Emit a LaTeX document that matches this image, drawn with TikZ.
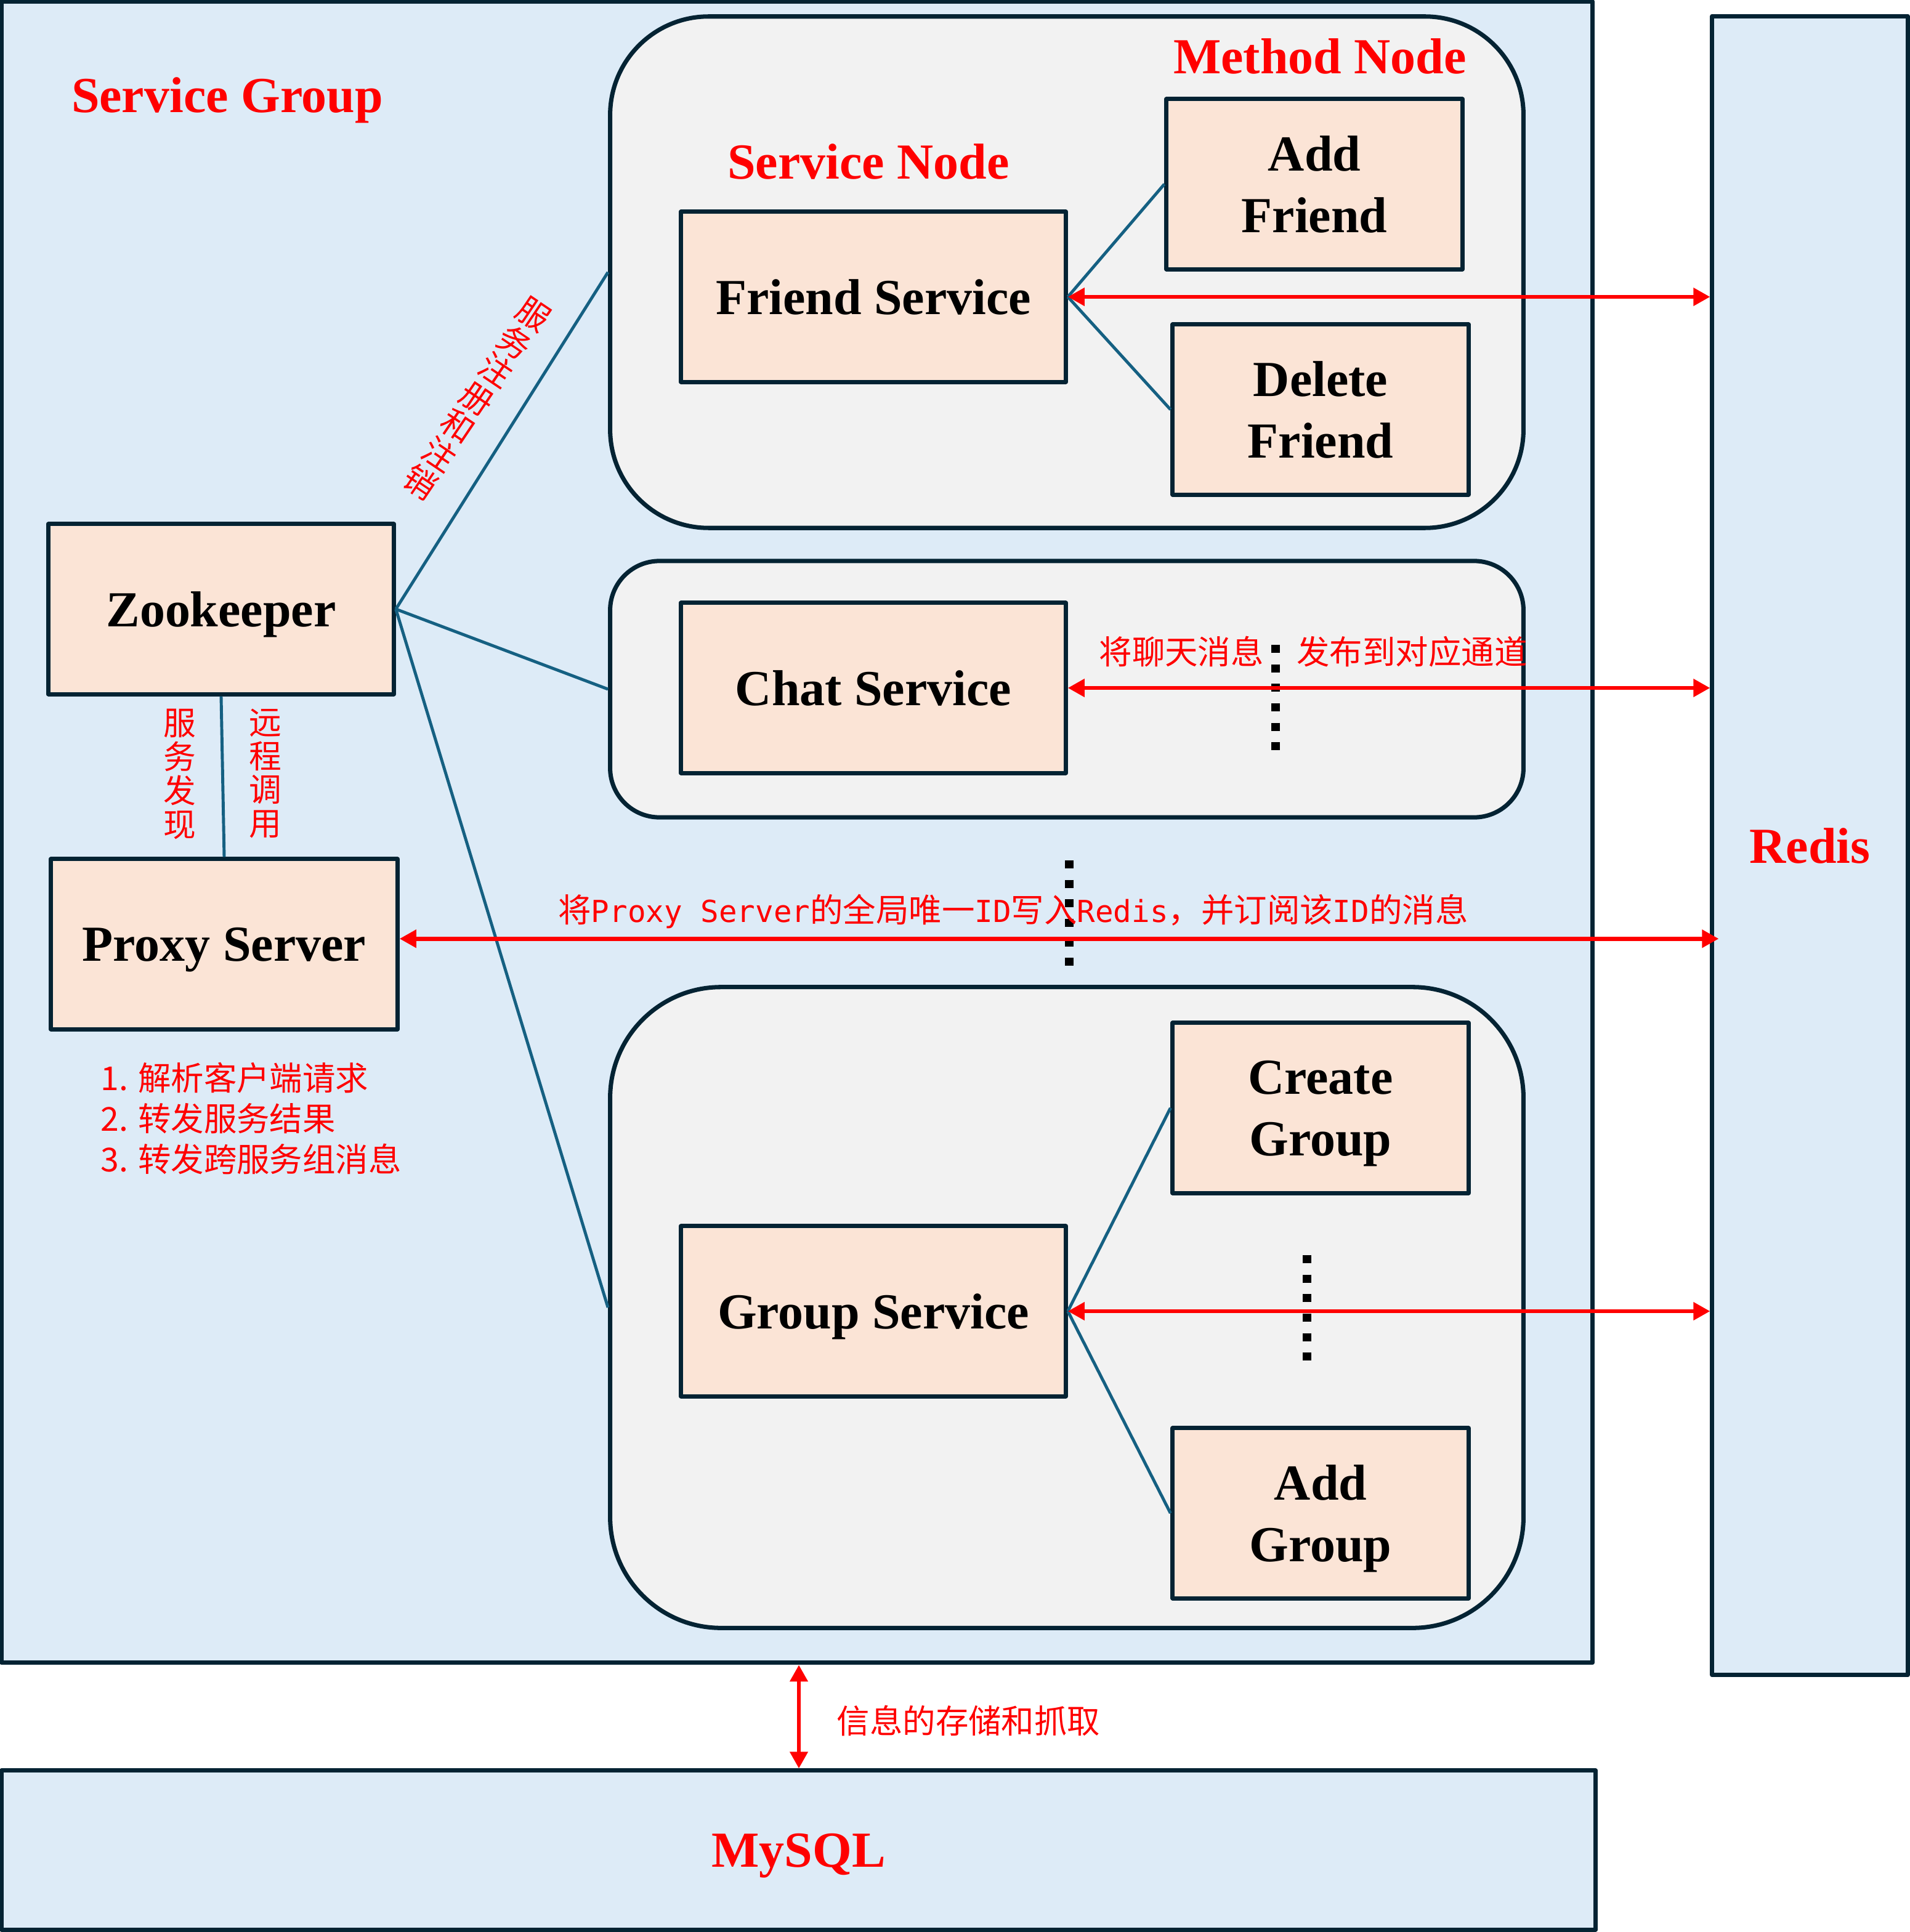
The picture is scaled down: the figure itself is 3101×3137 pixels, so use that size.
\documentclass[tikz,border=0pt]{standalone}
\usepackage{fontspec}
\setmainfont{Liberation Serif}
\newfontfamily\cjk{Noto Sans CJK SC}
\newfontfamily\lmono{DejaVu Sans Mono}[Scale=0.92]
\usetikzlibrary{arrows.meta}
\definecolor{grpblue}{RGB}{221,235,247}
\definecolor{boxgray}{RGB}{242,242,242}
\definecolor{nodeorange}{RGB}{251,228,214}
\definecolor{edgenavy}{RGB}{4,35,51}
\definecolor{linkteal}{RGB}{21,96,130}
\tikzset{
  bigbox/.style={draw=edgenavy,line width=2pt,fill=grpblue,inner sep=0pt,text depth=0pt,text=red,font=\fontsize{23.3}{28.4}\selectfont\bfseries},
  roundbox/.style={draw=edgenavy,line width=2pt,fill=boxgray,minimum width=14.82cm,inner sep=0pt},
  svcnode/.style={draw=edgenavy,line width=2pt,fill=nodeorange,minimum height=2.76cm,align=center,inner sep=0pt,text depth=0pt,font=\fontsize{23.3}{28.4}\selectfont\bfseries},
  title/.style={text=red,inner sep=0pt,anchor=base,font=\fontsize{23.3}{28.4}\selectfont\bfseries},
  note/.style={text=red,inner sep=0pt,font=\cjk\fontsize{15.2}{18.8}\selectfont},
  stack/.style={note,align=center,font=\cjk\fontsize{15}{15.6}\selectfont},
  link/.style={draw=linkteal,line width=1.4pt},
  duplex/.style={draw=red,line width=1.9pt,{Triangle[length=7.7pt,width=8pt]}-{Triangle[length=7.7pt,width=8pt]}},
  ellip/.style={line width=4pt,dash pattern=on 3.7pt off 5.3pt}
}
\begin{document}
\begin{tikzpicture}[x=0.01cm,y=-0.01cm,line join=round]
\useasboundingbox (0,0) rectangle (3101,3137);
% outer groups
\node[bigbox,minimum width=25.815cm,minimum height=26.955cm] (sgroup) at (1294.25,1351.25) {};
\node[bigbox,minimum width=3.17cm,minimum height=26.92cm] (redis) at (2938.5,1373) {Redis};
\node[bigbox,minimum width=25.865cm,minimum height=2.58cm] (mysql) at (1296.75,3004) {MySQL};
\node[title] (sgtitle) at (369,183) {Service Group};

% service node boxes
\node[roundbox,minimum height=8.30cm,rounded corners=1.6cm] (methodbox) at (1732,442) {};
\node[roundbox,minimum height=4.16cm,rounded corners=0.8cm] (chatbox) at (1732,1119) {};
\node[roundbox,minimum height=10.40cm,rounded corners=1.8cm] (groupbox) at (1732,2123) {};
\node[title] (mntitle) at (2143,120) {Method Node};
\node[title] (sntitle) at (1410,291) {Service Node};

% nodes
\node[svcnode,minimum width=6.24cm] (friend) at (1418,482) {Friend Service};
\node[svcnode,minimum width=4.80cm] (addfriend) at (2134,299) {Add\\Friend};
\node[svcnode,minimum width=4.80cm] (delfriend) at (2144,665) {Delete\\Friend};
\node[svcnode,minimum width=6.24cm] (chat) at (1418,1117) {Chat Service};
\node[svcnode,minimum width=6.24cm] (group) at (1418,2129) {Group Service};
\node[svcnode,minimum width=4.80cm] (creategroup) at (2144,1799) {Create\\Group};
\node[svcnode,minimum width=4.80cm] (addgroup) at (2144,2457) {Add\\Group};
\node[svcnode,minimum width=5.60cm] (zk) at (359,989) {Zookeeper};
\node[svcnode,minimum width=5.62cm] (proxy) at (364,1533) {Proxy Server};

% teal links
\draw[link] (zk.east) -- (methodbox.west);
\draw[link] (zk.east) -- (chatbox.west);
\draw[link] (zk.east) -- (groupbox.west);
\draw[link] (zk.south) -- (proxy.north);
\draw[link] (friend.east) -- (addfriend.west);
\draw[link] (friend.east) -- (delfriend.west);
\draw[link] (group.east) -- (creategroup.west);
\draw[link] (group.east) -- (addgroup.west);

% ellipsis marks
\draw[ellip] (2071,1047) -- (2071,1220);
\draw[ellip] (1736,1397) -- (1736,1570);
\draw[ellip] (2122,2038) -- (2122,2211);

% red arrows
\coordinate (dbx) at (1297,0);
\draw[duplex] (friend.east) -- (friend.east -| redis.west);
\draw[duplex] (chat.east) -- (chat.east -| redis.west);
\draw[duplex] (group.east) -- (group.east -| redis.west);
\draw[duplex] ([yshift=2.5pt]proxy.east) -- ([yshift=2.5pt,xshift=4pt]proxy.east -| redis.west);
\draw[duplex] (sgroup.south -| dbx) -- (mysql.north -| dbx);

% labels
\node[stack,rotate=-34] (reglbl) at (774,647) {服\\务\\注\\册\\和\\注\\销};
\node[stack] (findlbl) at (292,1257) {服\\务\\发\\现};
\node[stack] (rpclbl) at (431,1256) {远\\程\\调\\用};
\node[note,align=left,anchor=west] (proxylist) at (163,1816) {1. 解析客户端请求\\2. 转发服务结果\\3. 转发跨服务组消息};
\node[note] (chatlbl) at (2132,1058) {将聊天消息　发布到对应通道};
\node[note] (proxylbl) at (1645,1480) {将{\lmono Proxy Server}的全局唯一{\lmono ID}写入{\lmono Redis}，并订阅该{\lmono ID}的消息};
\node[note,anchor=west] (dblbl) at (1358,2794) {信息的存储和抓取};
\end{tikzpicture}
\end{document}
